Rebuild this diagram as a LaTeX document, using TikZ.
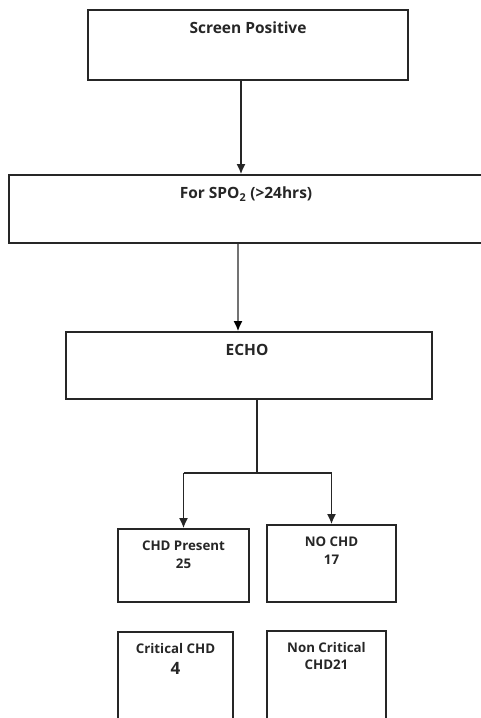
\documentclass[tikz,border=0pt]{standalone}
\usepackage{fontspec}
\setmainfont{Open Sans}
\usetikzlibrary{arrows.meta}
\begin{document}
\begin{tikzpicture}[>={Latex[length=10pt,width=9pt]}, x=1pt, y=-1pt,
  box/.style={draw=black!85, line width=1.6pt, rectangle, inner sep=0pt},
  big/.style={anchor=north, inner sep=0pt, yshift=-12.5pt, text=black!85,
    font=\fontsize{15.5}{18}\selectfont\bfseries},
  small/.style={anchor=north, inner sep=0pt, yshift=-12.5pt, align=center, text=black!85,
    font=\fontsize{13.3}{17.5}\selectfont\bfseries},
  flow/.style={line width=1.8pt, color=black!85}]
{\centering
\useasboundingbox (0,0) rectangle (481,718);

\node[box, minimum width=320pt, minimum height=70pt,
  label={[big]north:Screen Positive}]                    (screen) at (248,45)  {};
\node[box, minimum width=474pt, minimum height=68pt,
  label={[big]north:For SPO\textsubscript{2} (>24hrs)}]  (spo)    at (246,209) {};
\node[box, minimum width=366pt, minimum height=67pt,
  label={[big, xshift=-2pt]north:ECHO}]                  (echo)   at (249,365.5) {};

\node[box, minimum width=131pt, minimum height=73pt,
  label={[small]north:CHD Present\\25}]                  (chd)    at (183.5,565.5) {};
\node[box, minimum width=129pt, minimum height=77pt,
  label={[small]north:NO CHD\\17}]                       (nochd)  at (331.5,563.5) {};
\node[box, minimum width=115pt, minimum height=100pt,
  label={[small, yshift=0.5pt, font=\fontsize{13.3}{21}\selectfont\bfseries]north:Critical CHD\\{\fontsize{17}{21}\selectfont 4}}]
                                                         (crit)   at (175.5,682) {};
\node[box, minimum width=119pt, minimum height=100pt,
  label={[small, yshift=0.5pt, font=\fontsize{13.3}{17}\selectfont\bfseries]north:Non Critical\\CHD21}]
                                                         (noncrit) at (326.5,681) {};

\coordinate (split)  at (257,473);
\coordinate (splitL) at (183.5,473);
\coordinate (splitR) at (331.5,473);

\draw[->, flow] ([xshift=-7pt]screen.south) -- ([xshift=-5pt]spo.north);
\draw[-{Latex[length=10pt,width=9pt,black]}, flow, color=black!55]
  ([xshift=-8pt]spo.south) -- ([xshift=-11pt]echo.north);

\draw[flow] (split |- echo.south) -- (split);
\draw[flow] (splitL) -- (splitR);
\draw[->, flow] (splitL) -- (chd.north);
\draw[->, flow] (splitR) -- (nochd.north);
}
\end{tikzpicture}
\end{document}
